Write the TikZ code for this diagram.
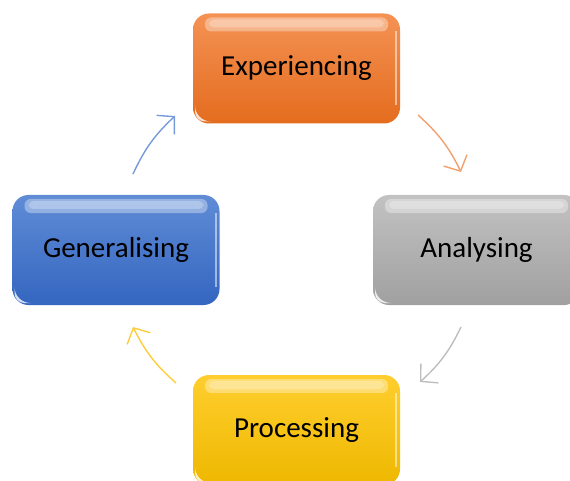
\documentclass[tikz,border=0pt]{standalone}
\usepackage{fontspec}
\setmainfont{Carlito}
\usetikzlibrary{arrows.meta}
\definecolor{orA}{RGB}{244,146,84}
\definecolor{orB}{RGB}{228,108,30}
\definecolor{grA}{RGB}{194,194,194}
\definecolor{grB}{RGB}{160,160,160}
\definecolor{blA}{RGB}{96,140,214}
\definecolor{blB}{RGB}{52,102,192}
\definecolor{ylA}{RGB}{255,206,46}
\definecolor{ylB}{RGB}{238,184,0}
\definecolor{orL}{RGB}{244,160,110}
\definecolor{grL}{RGB}{190,190,190}
\definecolor{blL}{RGB}{118,154,218}
\definecolor{ylL}{RGB}{255,205,60}
\tikzset{
  gbox/.style n args={2}{draw=none, rounded corners=16pt,
    minimum width=207pt, minimum height=110pt, inner sep=0pt,
    top color=#1, bottom color=#2, text=black,
    font=\fontsize{29}{33}\selectfont,
    path picture={
      \fill[white, opacity=0.35, rounded corners=6pt]
        ([shift={(12pt,-4pt)}]path picture bounding box.north west) rectangle
        ([shift={(-12pt,-18pt)}]path picture bounding box.north east);
      \fill[white, opacity=0.25, rounded corners=5pt]
        ([shift={(16pt,-6pt)}]path picture bounding box.north west) rectangle
        ([shift={(-16pt,-14pt)}]path picture bounding box.north east);
      \draw[white, opacity=0.5, line width=2pt, sharp corners]
        ([shift={(-4pt,-18pt)}]path picture bounding box.north east) --
        ([shift={(-4pt,18pt)}]path picture bounding box.south east);
      \fill[white, opacity=0.8, sharp corners]
        ([shift={(2pt,18pt)}]path picture bounding box.south west)
        arc[start angle=180, end angle=270, radius=16pt]
        -- ([shift={(12pt,2pt)}]path picture bounding box.south west)
        arc[start angle=270, end angle=180, radius=10pt] -- cycle;
    }},
  cyc/.style={line width=1.4pt, bend left=11,
    -{Straight Barb[length=12pt,width=26pt,line width=1.4pt]}}
}
\begin{document}
\begin{tikzpicture}[x=1pt,y=1pt]
\useasboundingbox (0,0) rectangle (570,480);
\clip (0,0) rectangle (570,480);
\node[gbox={orA}{orB}] (exp) at (296.5,411.5) {Experiencing};
\node[gbox={grA}{grB}] (ana) at (476.5,230) {Analysing};
\node[gbox={ylA}{ylB}] (pro) at (296.5,50) {Processing};
\node[gbox={blA}{blB}] (gen) at (116,230) {Generalising};
\coordinate (o1) at (418,365);
\coordinate (o2) at (461,308);
\coordinate (g1) at (461,153);
\coordinate (g2) at (420,98);
\coordinate (y1) at (176,97);
\coordinate (y2) at (133,153);
\coordinate (b1) at (133,306);
\coordinate (b2) at (175,364);
\draw[cyc, orL] (o1) to (o2);
\draw[cyc, grL] (g1) to (g2);
\draw[cyc, ylL] (y1) to (y2);
\draw[cyc, blL] (b1) to (b2);
\end{tikzpicture}
\end{document}
